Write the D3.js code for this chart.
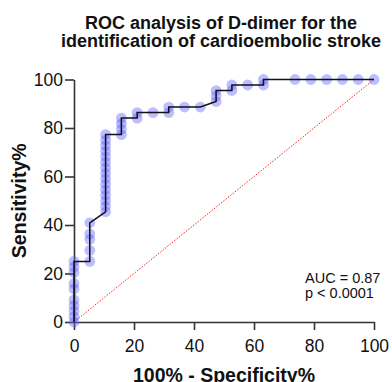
<!DOCTYPE html>
<html>
<head>
<meta charset="utf-8">
<script src="https://cdn.jsdelivr.net/npm/d3@7"></script>
<style>
    body { margin: 0; background: #fff; }
    svg text { font-family: "Liberation Sans", Arial, sans-serif; fill: #111; }
    .tick line, .domain { stroke: #333; stroke-width: 1.6px; }
    .tick text { font-size: 17.5px; }
</style>
</head>
<body>
<div id="chart"></div>
<script>

// 100% - Specificity% (x) and Sensitivity% (y) for each ROC point
const fprPct = [
    0, 0, 0, 0, 0, 0, 0, 0, 0, 0,
    5.26, 5.26, 5.26, 5.26, 5.26,
    10.53, 10.53, 10.53, 10.53, 10.53, 10.53, 10.53, 10.53, 10.53, 10.53, 10.53, 10.53, 10.53, 10.53, 10.53,
    15.79, 15.79, 15.79, 15.79,
    21.05, 21.05,
    26.32,
    31.58, 31.58,
    36.84, 42.11,
    47.37, 47.37, 47.37,
    52.63, 52.63,
    57.89,
    63.16, 63.16,
    73.68, 78.95, 84.21, 89.47, 94.74, 100
];
const sensPct = [
    0, 2.27, 4.55, 6.82, 9.09, 13.64, 15.91, 20.45, 22.73, 25,
    25, 29.55, 34.09, 36.36, 40.91,
    45.45, 47.73, 50, 52.27, 54.55, 56.82, 59.09, 61.36, 63.64, 65.91, 68.18, 70.45, 72.73, 75, 77.27,
    77.27, 79.55, 81.82, 84.09,
    84.09, 86.36,
    86.36,
    86.36, 88.64,
    88.64, 88.64,
    90.91, 93.18, 95.45,
    95.45, 97.73,
    97.73,
    97.73, 100,
    100, 100, 100, 100, 100, 100
];
const xTicks = [0, 20, 40, 60, 80, 100];
const yTicks = [0, 20, 40, 60, 80, 100];
const titleLines = ["ROC analysis of D-dimer for the", "identification of cardioembolic stroke"];
const statLines = ["AUC = 0.87", "p < 0.0001"];

const width = 392, height = 382;
const margin = { top: 79.5, right: 18, bottom: 60, left: 74 };

const svg = d3.select("#chart").append("svg")
    .attr("width", width)
    .attr("height", height);

const x = d3.scaleLinear().domain([0, 100]).range([margin.left, width - margin.right]);
const y = d3.scaleLinear().domain([0, 100]).range([height - margin.bottom, margin.top]);

const points = fprPct.map((d, i) => ({ x: d, y: sensPct[i] }));

// title
svg.append("text")
    .attr("text-anchor", "middle")
    .style("font-size", "18px")
    .style("font-weight", "bold")
    .selectAll("tspan")
    .data(titleLines)
    .join("tspan")
    .attr("x", 221)
    .attr("y", (d, i) => 29 + i * 17.5)
    .text(d => d);

// reference line (chance)
svg.append("line")
    .attr("x1", x(0)).attr("y1", y(0))
    .attr("x2", x(100)).attr("y2", y(100))
    .attr("stroke", "#ff2020")
    .attr("stroke-width", 1)
    .attr("stroke-dasharray", "1.5,1.5");

// axes
svg.append("g")
    .attr("transform", `translate(0,${y(0)})`)
    .call(d3.axisBottom(x).tickValues(xTicks).tickSize(8).tickPadding(10).tickSizeOuter(0));

svg.append("g")
    .attr("transform", `translate(${x(0)},0)`)
    .call(d3.axisLeft(y).tickValues(yTicks).tickSize(9).tickPadding(2).tickSizeOuter(0));

// points
svg.append("g")
    .selectAll("circle")
    .data(points)
    .join("circle")
    .attr("cx", d => x(d.x))
    .attr("cy", d => y(d.y))
    .attr("r", 5.4)
    .attr("fill", "#5a5aff")
    .attr("fill-opacity", 0.4);

// ROC curve
svg.append("path")
    .datum(points)
    .attr("fill", "none")
    .attr("stroke", "#111")
    .attr("stroke-width", 1.5)
    .attr("d", d3.line().x(d => x(d.x)).y(d => y(d.y)));

// axis titles
svg.append("text")
    .attr("x", (x(0) + x(100)) / 2)
    .attr("y", 382)
    .attr("text-anchor", "middle")
    .style("font-size", "19.5px")
    .style("font-weight", "bold")
    .text("100% - Specificity%");

svg.append("text")
    .attr("transform", `translate(26,${(y(0) + y(100)) / 2}) rotate(-90)`)
    .attr("text-anchor", "middle")
    .style("font-size", "19.5px")
    .style("font-weight", "bold")
    .text("Sensitivity%");

// AUC annotation
svg.append("text")
    .style("font-size", "14.5px")
    .selectAll("tspan")
    .data(statLines)
    .join("tspan")
    .attr("x", 305)
    .attr("y", (d, i) => 283 + i * 15)
    .text(d => d);

</script>
</body>
</html>
